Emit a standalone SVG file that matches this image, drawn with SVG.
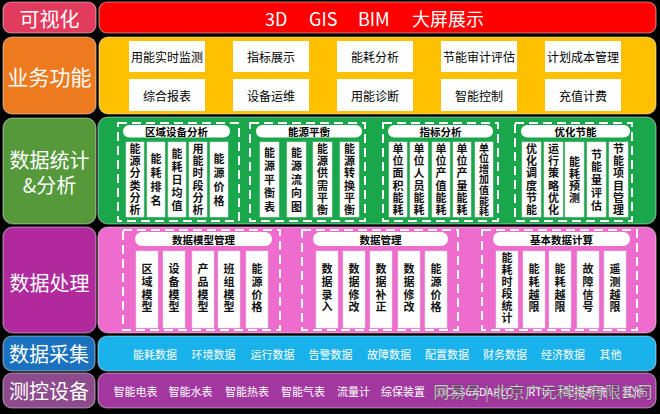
<svg xmlns="http://www.w3.org/2000/svg" width="660" height="414" viewBox="0 0 660 414">
<style>
text{font-family:"Noto Sans CJK SC","Liberation Sans",sans-serif;text-anchor:middle;dominant-baseline:central}
.lbl{fill:#fff}
.pan{stroke:#ffffff;stroke-opacity:.45;stroke-width:1.2}
.box{fill:#fff}
.bt{font-size:12px;fill:#000}
.pill{fill:#fff}
.pt{font-size:10.5px;font-weight:bold;fill:#000}
.col{fill:#fff;stroke:#d8d8d8;stroke-width:.6}
.v{font-size:11px;font-weight:bold;fill:#111;writing-mode:vertical-rl}
.v4{letter-spacing:3px}
.v5{letter-spacing:2px}
.v6{letter-spacing:1.3px}
.p4{letter-spacing:1.8px}
.p6{letter-spacing:1px}
.dash{fill:none;stroke:#fff;stroke-width:2;stroke-dasharray:9 5}
.st{font-size:11px;fill:#fff}
</style>
<rect width="660" height="414" fill="#000"/>

<g id="row-visual">
<rect class="pan" x="3" y="2" width="93" height="31" rx="8" fill="#e33b5d"/>
<text class="lbl" x="49.5" y="18" font-size="20">可视化</text>
<rect class="pan" x="99" y="2" width="557" height="31" rx="8" fill="#ff0000"/>
<text class="lbl" y="18" font-size="18" style="text-anchor:start"><tspan x="265">3D</tspan><tspan x="309">GIS</tspan><tspan x="358">BIM</tspan><tspan x="412">大屏展示</tspan></text>
</g>

<g id="row-business">
<rect class="pan" x="3" y="37" width="93" height="77" rx="9" fill="#ee7a1f"/>
<text class="lbl" x="49.5" y="76" font-size="21">业务功能</text>
<rect class="pan" x="99" y="37" width="557" height="77" rx="9" fill="#ffc000"/>
<g id="b1"><rect class="box" x="129" y="41" width="76" height="31"/><text class="bt" x="167" y="56.5">用能实时监测</text></g>
<g id="b2"><rect class="box" x="233" y="41" width="76" height="31"/><text class="bt" x="271" y="56.5">指标展示</text></g>
<g id="b3"><rect class="box" x="337" y="41" width="76" height="31"/><text class="bt" x="375" y="56.5">能耗分析</text></g>
<g id="b4"><rect class="box" x="441" y="41" width="76" height="31"/><text class="bt" x="479" y="56.5">节能审计评估</text></g>
<g id="b5"><rect class="box" x="545" y="41" width="76" height="31"/><text class="bt" x="583" y="56.5">计划成本管理</text></g>
<g id="b6"><rect class="box" x="129" y="79" width="76" height="32"/><text class="bt" x="167" y="95">综合报表</text></g>
<g id="b7"><rect class="box" x="233" y="79" width="76" height="32"/><text class="bt" x="271" y="95">设备运维</text></g>
<g id="b8"><rect class="box" x="337" y="79" width="76" height="32"/><text class="bt" x="375" y="95">用能诊断</text></g>
<g id="b9"><rect class="box" x="441" y="79" width="76" height="32"/><text class="bt" x="479" y="95">智能控制</text></g>
<g id="b10"><rect class="box" x="545" y="79" width="76" height="32"/><text class="bt" x="583" y="95">充值计费</text></g>
</g>

<g id="row-stats">
<rect class="pan" x="3" y="118" width="93" height="106" rx="10" fill="#55993b"/>
<text class="lbl" x="49.5" y="159" font-size="20">数据统计</text>
<text class="lbl" x="49.5" y="184" font-size="20">&amp;分析</text>
<rect class="pan" x="98" y="117" width="558" height="107" rx="10" fill="#1aa64b"/>

<g id="g-area">
<rect class="dash" x="118" y="123" width="121" height="98"/>
<rect class="pill" x="123" y="125" width="107" height="12.5" rx="6.25"/>
<text class="pt" x="176.5" y="131.3">区域设备分析</text>
<rect class="col" x="126" y="142" width="18" height="75"/><rect class="col" x="147" y="142" width="18" height="75"/><rect class="col" x="168" y="142" width="18" height="75"/><rect class="col" x="189" y="142" width="18" height="75"/><rect class="col" x="210" y="142" width="18" height="75"/>
<text class="v v6" x="135" y="180">能源分类分析</text>
<text class="v v4" x="156" y="181">能耗排名</text>
<text class="v v5" x="177" y="180.5">能耗日均值</text>
<text class="v v6" x="198" y="180">用能时段分析</text>
<text class="v v4" x="219" y="181">能源价格</text>
</g>

<g id="g-balance">
<rect class="dash" x="250" y="123" width="115" height="98"/>
<rect class="pill" x="256" y="125" width="106" height="12.5" rx="6.25"/>
<text class="pt" x="309" y="131.3">能源平衡</text>
<rect class="col" x="260" y="142" width="19" height="75"/><rect class="col" x="287" y="142" width="19" height="75"/><rect class="col" x="313" y="142" width="19" height="75"/><rect class="col" x="340" y="142" width="19" height="75"/>
<text class="v" x="269.5" y="181" style="letter-spacing:2.5px">能源平衡表</text>
<text class="v" x="296.5" y="181" style="letter-spacing:2.5px">能源流向图</text>
<text class="v v6" x="322.5" y="180">能源供需平衡</text>
<text class="v v6" x="349.5" y="180">能源转换平衡</text>
</g>

<g id="g-index">
<rect class="dash" x="383" y="123" width="115" height="98"/>
<rect class="pill" x="388" y="125" width="105" height="12.5" rx="6.25"/>
<text class="pt" x="440.5" y="131.3">指标分析</text>
<rect class="col" x="389" y="142" width="18" height="75"/><rect class="col" x="410" y="142" width="18" height="75"/><rect class="col" x="432" y="142" width="18" height="75"/><rect class="col" x="453" y="142" width="18" height="75"/><rect class="col" x="475" y="142" width="18" height="75"/>
<text class="v v6" x="398" y="180">单位面积能耗</text>
<text class="v v6" x="419" y="180">单位人员能耗</text>
<text class="v v6" x="441" y="180">单位产值能耗</text>
<text class="v v6" x="462" y="180">单位产量能耗</text>
<text class="v" x="484" y="180" style="font-size:10px;letter-spacing:0.6px">单位增加值能耗</text>
</g>

<g id="g-optimize">
<rect class="dash" x="515" y="123" width="117" height="98"/>
<rect class="pill" x="521" y="125" width="109" height="12.5" rx="6.25"/>
<text class="pt" x="575.5" y="131.3">优化节能</text>
<rect class="col" x="522" y="142" width="19" height="75"/><rect class="col" x="544" y="142" width="19" height="75"/><rect class="col" x="565" y="142" width="19" height="75"/><rect class="col" x="587" y="142" width="19" height="75"/><rect class="col" x="609" y="142" width="19" height="75"/>
<text class="v v6" x="531.5" y="180">优化调度节能</text>
<text class="v v6" x="553.5" y="180">运行策略优化</text>
<text class="v" x="574.5" y="180.5" style="letter-spacing:1.3px">能耗预测</text>
<text class="v" x="596.5" y="181" style="letter-spacing:1.8px">节能量评估</text>
<text class="v v6" x="618.5" y="180">节能项目管理</text>
</g>
</g>

<g id="row-process">
<rect class="pan" x="3" y="227" width="93" height="106" rx="10" fill="#b02a9e"/>
<text class="lbl" x="49.5" y="282" font-size="20">数据处理</text>
<rect class="pan" x="98" y="227" width="558" height="106" rx="10" fill="#ee6cce"/>

<g id="p-model">
<rect class="dash" x="123" y="230" width="157" height="100"/>
<rect class="pill" x="135" y="232" width="137" height="14" rx="7"/>
<text class="pt" x="203.5" y="239">数据模型管理</text>
<rect class="col" x="136" y="251" width="22" height="77"/><rect class="col" x="163" y="251" width="22" height="77"/><rect class="col" x="192" y="251" width="22" height="77"/><rect class="col" x="218" y="251" width="22" height="77"/><rect class="col" x="246" y="251" width="22" height="77"/>
<text class="v p4" x="147" y="289">区域模型</text>
<text class="v p4" x="174" y="289">设备模型</text>
<text class="v p4" x="203" y="289">产品模型</text>
<text class="v p4" x="229" y="289">班组模型</text>
<text class="v p4" x="257" y="289">能源价格</text>
</g>

<g id="p-manage">
<rect class="dash" x="302" y="230" width="156" height="100"/>
<rect class="pill" x="313" y="232" width="135" height="14" rx="7"/>
<text class="pt" x="380.5" y="239">数据管理</text>
<rect class="col" x="316" y="251" width="22" height="77"/><rect class="col" x="343" y="251" width="22" height="77"/><rect class="col" x="370" y="251" width="22" height="77"/><rect class="col" x="398" y="251" width="22" height="77"/><rect class="col" x="425" y="251" width="22" height="77"/>
<text class="v p4" x="327" y="289">数据录入</text>
<text class="v p4" x="354" y="289">数据修改</text>
<text class="v p4" x="381" y="289">数据补正</text>
<text class="v p4" x="409" y="289">数据修改</text>
<text class="v p4" x="436" y="289">能源价格</text>
</g>

<g id="p-calc">
<rect class="dash" x="482" y="230" width="155" height="100"/>
<rect class="pill" x="493" y="232" width="137" height="14" rx="7"/>
<text class="pt" x="561.5" y="239">基本数据计算</text>
<rect class="col" x="496" y="251" width="22" height="77"/><rect class="col" x="523" y="251" width="22" height="77"/><rect class="col" x="549" y="251" width="22" height="77"/><rect class="col" x="577" y="251" width="22" height="77"/><rect class="col" x="604" y="251" width="22" height="77"/>
<text class="v p6" x="507" y="288.5">能耗时段统计</text>
<text class="v p4" x="534" y="289">能耗越限</text>
<text class="v p4" x="560" y="289">能耗越限</text>
<text class="v p4" x="588" y="289">故障信号</text>
<text class="v p4" x="615" y="289">遥测越限</text>
</g>
</g>

<g id="row-collect">
<rect class="pan" x="3" y="336" width="92" height="35" rx="9" fill="#1a72be"/>
<text class="lbl" x="49" y="353.5" font-size="20">数据采集</text>
<rect class="pan" x="98" y="336" width="558" height="35" rx="9" fill="#1ab2ea"/>
<text class="st" x="155" y="353.5">能耗数据</text>
<text class="st" x="213.5" y="353.5">环境数据</text>
<text class="st" x="272.5" y="353.5">运行数据</text>
<text class="st" x="330.5" y="353.5">告警数据</text>
<text class="st" x="389" y="353.5">故障数据</text>
<text class="st" x="447" y="353.5">配置数据</text>
<text class="st" x="505" y="353.5">财务数据</text>
<text class="st" x="563" y="353.5">经济数据</text>
<text class="st" x="610.5" y="353.5">其他</text>
</g>

<g id="row-devices">
<rect class="pan" x="3" y="373" width="92" height="35" rx="9" fill="#8d4a8c"/>
<text class="lbl" x="49" y="390.5" font-size="20">测控设备</text>
<rect class="pan" x="98" y="373" width="558" height="35" rx="9" fill="#a2379f"/>
<text class="st" x="135.5" y="390.5">智能电表</text>
<text class="st" x="190.5" y="390.5">智能水表</text>
<text class="st" x="247" y="390.5">智能热表</text>
<text class="st" x="303" y="390.5">智能气表</text>
<text class="st" x="353.5" y="390.5">流量计</text>
<text class="st" x="403" y="390.5">综保装置</text>
<text class="st" x="448" y="390.5">DCS</text>
<text class="st" x="476" y="390.5">SCADA</text>
<text class="st" x="503" y="390.5">PLC</text>
<text class="st" x="539" y="390.5">RTU</text>
<text class="st" x="585" y="390.5">配电系统</text>
<text class="st" x="633" y="390.5">其他</text>
<text x="543" y="391" font-size="16" fill="#fff" stroke="#333" stroke-width=".4">网易号 | 北京广元科技有限公司</text>
</g>
</svg>
